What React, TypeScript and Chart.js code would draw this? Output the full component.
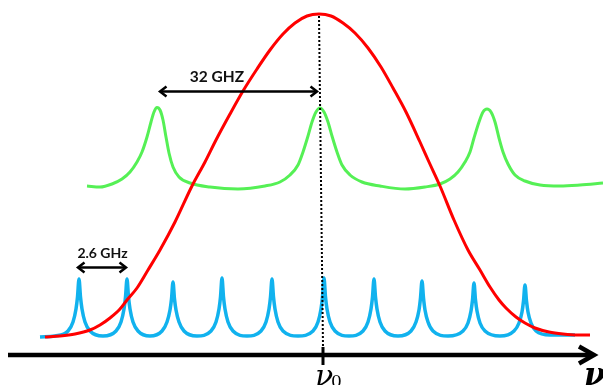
import React, { useEffect, useRef } from "react";
import { Chart, registerables } from "chart.js";

Chart.register(...registerables);

// Frequency axis (arbitrary units) and signal level (arbitrary units, larger = lower on the page)
const redX = [45, 60, 75, 90, 100, 110, 120, 127, 137, 148, 160, 175, 192, 205, 216, 230, 243, 257, 270, 283, 295, 307, 319, 331, 343, 355, 368, 381, 393, 406, 420, 429, 440, 454, 468, 480, 490, 499, 506, 516, 525, 535, 549, 563, 578, 590];
const redY = [337, 336, 334, 330, 325, 318, 309, 300, 288, 270, 250, 222, 186, 162, 140, 114, 91, 69, 50, 34, 23, 16, 14, 16, 23, 33, 48, 67, 88, 112, 142, 162, 186, 220, 250, 270, 287, 300, 308, 317, 323, 328, 332, 334, 335, 335];

const greenX = [87, 100, 112, 122, 130, 137, 142, 147, 151, 154, 157, 160, 163, 166, 169, 173, 179, 190, 210, 238, 265, 280, 290, 298, 303, 308, 312, 316, 320, 324, 328, 332, 337, 342, 350, 362, 380, 405, 425, 440, 450, 458, 465, 470, 474, 479, 483, 487, 491, 495, 499, 503, 508, 515, 525, 540, 560, 580, 603];
const greenY = [186, 187, 184, 179, 172, 162, 152, 137, 122, 112, 107.5, 110, 120, 137, 153, 167, 177, 183, 187, 189, 186, 182, 175, 165, 152, 136, 122, 112, 108, 112, 122, 136, 152, 165, 175, 182, 186, 189, 187, 184, 179, 172, 162, 152, 138, 122, 112, 109, 112, 122, 138, 152, 164, 175, 181, 185, 186, 185, 183];

const blueX = [
  40, 55,
  68, 73, 76, 77.5, 79, 80.5, 82, 85, 90, 103,
  116, 121, 124, 125.5, 127, 128.5, 130, 133, 138, 150,
  162, 167, 170, 171.5, 173, 174.5, 176, 179, 184, 197,
  211, 216, 219, 220.5, 222, 223.5, 225, 228, 233, 247,
  261, 266, 269, 270.5, 272, 273.5, 275, 278, 283, 298,
  313, 318, 321, 322.5, 324, 325.5, 327, 330, 335, 349,
  363, 368, 371, 372.5, 374, 375.5, 377, 380, 385, 398,
  411, 416, 419, 420.5, 422, 423.5, 425, 428, 433, 448,
  463, 468, 471, 472.5, 474, 475.5, 477, 480, 485, 500,
  514, 519, 522, 523.5, 525, 526.5, 528, 531, 536, 550, 575,
];
const blueY = [
  337, 336,
  331, 322, 309, 297, 279, 297, 309, 322, 331, 336,
  331, 322, 309, 297, 279, 297, 309, 322, 331, 336,
  331, 322, 310, 299, 282, 299, 310, 322, 331, 336,
  331, 322, 309, 297, 278, 297, 309, 322, 331, 336,
  331, 322, 309, 297, 279, 297, 309, 322, 331, 336,
  331, 322, 309, 297, 278, 297, 309, 322, 331, 336,
  331, 322, 309, 297, 279, 297, 309, 322, 331, 336,
  331, 322, 310, 298, 281, 298, 310, 322, 331, 336,
  331, 323, 311, 300, 283, 300, 311, 323, 331, 336,
  331, 323, 312, 301, 285, 301, 312, 323, 331, 335, 335,
];

const centerLineX = [319, 323];
const centerLineY = [16, 347];

const nu0X = 323;
const axisLevel = 355;
const axisStart = 8;
const axisEnd = 596;

const wideSpacingLabel = "32 GHZ";
const wideSpacingFrom = 159; // green peak 1
const wideSpacingTo = 318; // green peak 2
const narrowSpacingLabel = "2.6 GHz";
const narrowSpacingFrom = 77; // blue peak 1
const narrowSpacingTo = 127; // blue peak 2
const axisName = "ν";
const centerName = "ν";
const centerSub = "0";

const zip = (xs: number[], ys: number[]) => xs.map((x, i) => ({ x, y: ys[i] }));

const overlay = {
  id: "overlay",
  afterDatasetsDraw(chart: any) {
    const { ctx, scales } = chart;
    const X = (v: number) => scales.x.getPixelForValue(v);
    const Y = (v: number) => scales.y.getPixelForValue(v);
    ctx.save();
    ctx.strokeStyle = "#000";
    ctx.fillStyle = "#000";

    // frequency axis
    ctx.lineWidth = 4.5;
    ctx.lineCap = "butt";
    ctx.beginPath();
    ctx.moveTo(X(axisStart), Y(axisLevel));
    ctx.lineTo(X(axisEnd) - 3, Y(axisLevel));
    ctx.stroke();
    ctx.lineJoin = "miter";
    ctx.lineWidth = 4.5;
    ctx.beginPath();
    ctx.moveTo(X(axisEnd) - 17, Y(axisLevel) - 8.5);
    ctx.lineTo(X(axisEnd) - 2, Y(axisLevel));
    ctx.lineTo(X(axisEnd) - 17, Y(axisLevel) + 8.5);
    ctx.stroke();

    // tick at nu0
    ctx.lineWidth = 3;
    ctx.beginPath();
    ctx.moveTo(X(nu0X), Y(axisLevel) - 8);
    ctx.lineTo(X(nu0X), Y(axisLevel) + 10);
    ctx.stroke();

    // double arrows
    const dbl = (a: number, b: number, yv: number) => {
      const y = Y(yv);
      const x1 = X(a), x2 = X(b);
      ctx.lineWidth = 2.5;
      ctx.lineJoin = "miter";
      ctx.beginPath();
      ctx.moveTo(x1 + 1, y);
      ctx.lineTo(x2 - 1, y);
      ctx.stroke();
      ctx.beginPath();
      ctx.moveTo(x1 + 7.5, y - 5);
      ctx.lineTo(x1 + 1, y);
      ctx.lineTo(x1 + 7.5, y + 5);
      ctx.stroke();
      ctx.beginPath();
      ctx.moveTo(x2 - 7.5, y - 5);
      ctx.lineTo(x2 - 1, y);
      ctx.lineTo(x2 - 7.5, y + 5);
      ctx.stroke();
    };
    dbl(wideSpacingFrom, wideSpacingTo, 91.5);
    dbl(narrowSpacingFrom, narrowSpacingTo, 267.5);

    ctx.textAlign = "center";
    ctx.textBaseline = "alphabetic";
    ctx.fillStyle = "#111";
    ctx.font = "bold 15.5px Lato";
    ctx.fillText(wideSpacingLabel, X(217), Y(82));
    ctx.font = "bold 14px Lato";
    ctx.fillText(narrowSpacingLabel, X(102.5), Y(257.5));

    // nu labels
    ctx.fillStyle = "#000";
    ctx.textAlign = "left";
    ctx.font = "italic 30px 'DejaVu Serif'";
    ctx.fillText(centerName, X(315), Y(386));
    ctx.font = "17px 'DejaVu Serif'";
    ctx.fillText(centerSub, X(331), Y(387));
    ctx.font = "bold italic 31px 'DejaVu Serif'";
    ctx.fillText(axisName, X(584), Y(385));
    ctx.restore();
  },
};

export default function App() {
  const ref = useRef<HTMLCanvasElement | null>(null);
  useEffect(() => {
    if (!ref.current) return;
    const chart = new Chart(ref.current, {
      type: "scatter",
      data: {
        datasets: [
          {
            data: zip(centerLineX, centerLineY),
            showLine: true,
            borderColor: "#000",
            borderWidth: 2,
            borderDash: [2, 2],
            pointRadius: 0,
          },
          {
            data: zip(redX, redY),
            showLine: true,
            borderColor: "#ff0000",
            borderWidth: 3,
            pointRadius: 0,
            cubicInterpolationMode: "monotone",
          },
          {
            data: zip(blueX, blueY),
            showLine: true,
            borderColor: "#11b2ee",
            borderWidth: 3.5,
            pointRadius: 0,
            cubicInterpolationMode: "monotone",
          },
          {
            data: zip(greenX, greenY),
            showLine: true,
            borderColor: "#55f055",
            borderWidth: 3,
            pointRadius: 0,
            cubicInterpolationMode: "monotone",
          },
        ],
      },
      options: {
        animation: false,
        responsive: false,
        maintainAspectRatio: false,
        layout: { padding: 0 },
        plugins: { legend: { display: false }, tooltip: { enabled: false } },
        scales: {
          x: { type: "linear", min: 0, max: 603, display: false },
          y: { type: "linear", min: 0, max: 385, reverse: true, display: false },
        },
      },
      plugins: [overlay],
    } as any);
    return () => chart.destroy();
  }, []);
  return (
    <div style={{ position: "fixed", left: 0, top: 0, width: 603, height: 385, background: "#fff" }}>
      <canvas ref={ref} width={603} height={385} style={{ display: "block" }} />
    </div>
  );
}
